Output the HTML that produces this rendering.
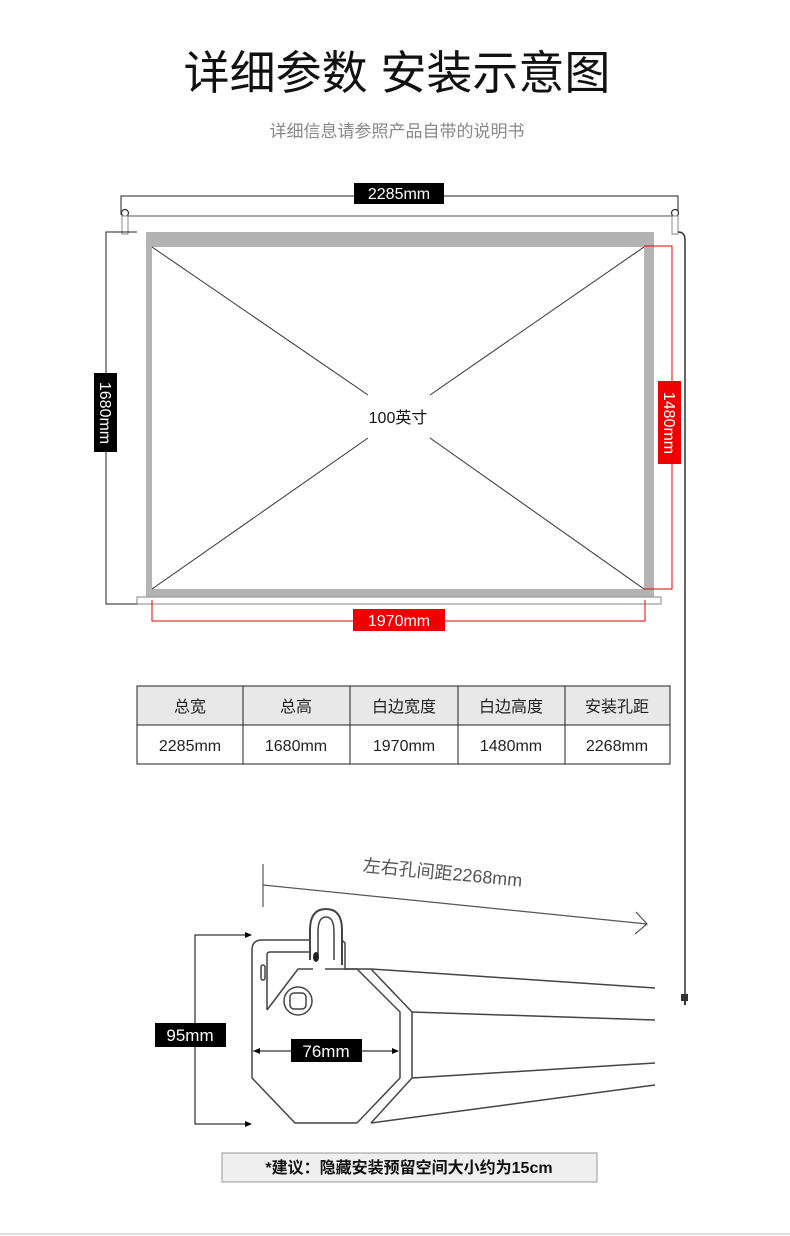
<!DOCTYPE html>
<html><head><meta charset="utf-8"><style>
html,body{margin:0;padding:0;background:#fff;}
body{width:790px;height:1236px;position:relative;overflow:hidden;font-family:"Liberation Sans","Noto Sans CJK SC",sans-serif;}
svg{position:absolute;left:0;top:0;}
text{font-family:"Liberation Sans","Noto Sans CJK SC",sans-serif;}
</style></head><body>
<svg width="790" height="1236" viewBox="0 0 790 1236" xmlns="http://www.w3.org/2000/svg">
<text x="397" y="89" font-size="46" text-anchor="middle" fill="#111">详细参数 安装示意图</text>
<text x="397" y="137" font-size="17" text-anchor="middle" fill="#888">详细信息请参照产品自带的说明书</text>

<polyline points="121,215 121,196 678,196 678,215" fill="none" stroke="#222" stroke-width="1"/>
<rect x="354" y="183" width="90" height="21" fill="#000"/>
<text x="399" y="199" font-size="16" text-anchor="middle" fill="#fff">2285mm</text>

<line x1="125" y1="216" x2="678" y2="216" stroke="#888" stroke-width="1.5"/>
<circle cx="125" cy="213" r="3.5" fill="#fff" stroke="#333" stroke-width="1.2"/>
<circle cx="675" cy="213" r="3.5" fill="#fff" stroke="#333" stroke-width="1.2"/>
<rect x="122" y="216" width="6" height="18" fill="#fff" stroke="#888"/>
<rect x="672" y="216" width="6" height="18" fill="#fff" stroke="#888"/>
<path d="M678,232 Q685,232 685,240 L685,995" fill="none" stroke="#333" stroke-width="1.5"/>
<rect x="681" y="994" width="7" height="7" fill="#333"/>
<line x1="685" y1="1001" x2="685" y2="1005" stroke="#333" stroke-width="2"/>

<rect x="146" y="232" width="508" height="366" fill="#b3b3b3"/>
<rect x="152" y="247" width="492" height="342" fill="#fff"/>
<rect x="137" y="597" width="524" height="7" fill="#fff" stroke="#999" stroke-width="1.2"/>
<g stroke="#333" stroke-width="1">
<line x1="152" y1="247" x2="368" y2="395"/>
<line x1="644" y1="247" x2="430" y2="395"/>
<line x1="152" y1="589" x2="368" y2="438"/>
<line x1="644" y1="589" x2="430" y2="438"/>
</g>
<text x="398" y="423" font-size="16" text-anchor="middle" fill="#111">100英寸</text>

<polyline points="137,232 106,232 106,604 137,604" fill="none" stroke="#222" stroke-width="1"/>
<rect x="94" y="373" width="23" height="79" fill="#000"/>
<text x="0" y="0" font-size="16" fill="#fff" text-anchor="middle" transform="translate(100,413) rotate(90)">1680mm</text>

<polyline points="644,246 672,246 672,589 644,589" fill="none" stroke="#e00" stroke-width="1"/>
<rect x="658" y="381" width="23" height="83" fill="#e00"/>
<text x="0" y="0" font-size="16" fill="#fff" text-anchor="middle" transform="translate(664,423) rotate(90)">1480mm</text>

<polyline points="152,600 152,621 645,621 645,600" fill="none" stroke="#e00" stroke-width="1"/>
<rect x="353" y="609" width="92" height="22" fill="#e00"/>
<text x="399" y="626" font-size="16" text-anchor="middle" fill="#fff">1970mm</text>

<rect x="137" y="686" width="533" height="39" fill="#e8e8e8"/>
<g stroke="#222" stroke-width="1" fill="none">
<rect x="137" y="686" width="533" height="78"/>
<line x1="137" y1="725" x2="670" y2="725"/>
<line x1="243" y1="686" x2="243" y2="764"/>
<line x1="350" y1="686" x2="350" y2="764"/>
<line x1="458" y1="686" x2="458" y2="764"/>
<line x1="565" y1="686" x2="565" y2="764"/>
</g>
<g font-size="16" text-anchor="middle" fill="#222">
<text x="190" y="712">总宽</text><text x="296" y="712">总高</text><text x="404" y="712">白边宽度</text><text x="511" y="712">白边高度</text><text x="617" y="712">安装孔距</text>
<text x="190" y="751">2285mm</text><text x="296" y="751">1680mm</text><text x="404" y="751">1970mm</text><text x="511" y="751">1480mm</text><text x="617" y="751">2268mm</text>
</g>

<line x1="263" y1="864" x2="263" y2="907" stroke="#555" stroke-width="1.2"/>
<line x1="263" y1="885" x2="647" y2="924" stroke="#555" stroke-width="1.2"/>
<polyline points="636,912 647,924 635,934" fill="none" stroke="#555" stroke-width="1.2"/>
<text x="0" y="0" font-size="18" fill="#555" text-anchor="middle" transform="translate(442,879) rotate(5.5)">左右孔间距2268mm</text>

<g fill="none" stroke="#444" stroke-width="1.5">
<path d="M371,969 L655,988 M412,1012 L655,1020 M412,1078 L655,1063 M371,1123 L655,1085"/>
<path d="M357,969 L400,1012 L400,1078 L357,1123"/>
<path d="M371,969 L412,1012 L412,1078 L371,1123"/>
<path d="M262,940 L310,940 M342,940 L345,943 L345,969 L371,969 M357,1123 L295,1123 L252,1078 L252,950 Q252,940 262,940"/>
<path d="M357,969 L325,969" />
<path d="M267,1010 L298,969 L313,969"/>
<path d="M267,1010 L267,955 Q267,952 270,952 L310,952"/>
<path d="M310,960 L310,930 Q310,909 326,909 Q342,909 342,930 L342,965" stroke-width="2"/>
<path d="M318,955 L318,932 Q318,917 326,917 Q334,917 334,932 L334,960"/>
<rect x="261" y="965" width="4" height="15" rx="2"/>
<circle cx="298" cy="1001" r="14"/>
<rect x="290" y="993" width="16" height="16" rx="4"/>
</g>
<ellipse cx="316" cy="957" rx="3" ry="5" fill="#222"/>

<polyline points="250,935 195,935 195,1124 250,1124" fill="none" stroke="#000" stroke-width="1"/>
<path d="M252,935 l-7,-3 v6z M252,1124 l-7,-3 v6z" fill="#000"/>
<rect x="155" y="1023" width="71" height="24" fill="#000"/>
<text x="190" y="1041" font-size="17" text-anchor="middle" fill="#fff">95mm</text>
<line x1="253" y1="1051" x2="398" y2="1051" stroke="#000" stroke-width="1"/>
<path d="M253,1051 l7,-3 v6z M399,1051 l-7,-3 v6z" fill="#000"/>
<rect x="291" y="1039" width="71" height="23" fill="#000"/>
<text x="326" y="1057" font-size="17" text-anchor="middle" fill="#fff">76mm</text>

<rect x="222" y="1153" width="375" height="29" fill="#efefef" stroke="#999" stroke-width="1"/>
<text x="409" y="1173" font-size="16" text-anchor="middle" fill="#111" font-weight="bold">*建议：隐藏安装预留空间大小约为15cm</text>

<line x1="0" y1="1234" x2="790" y2="1234" stroke="#bbb" stroke-width="1"/>
</svg>
</body></html>
